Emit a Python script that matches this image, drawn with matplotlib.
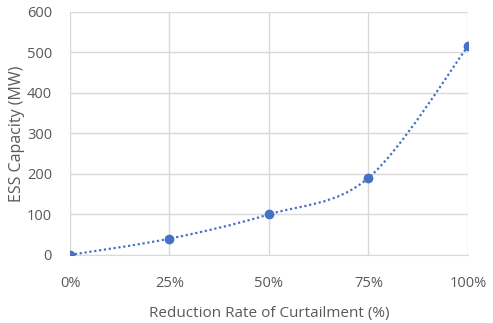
import matplotlib
matplotlib.use("Agg")
import matplotlib.pyplot as plt
import numpy as np
from matplotlib.path import Path
from matplotlib.patches import PathPatch

categories = ["0%", "25%", "50%", "75%", "100%"]
capacity = [0, 40, 100, 190, 515]
y_ticks = [0, 100, 200, 300, 400, 500, 600]

BLUE = "#4472C4"
GRID = "#D9D9D9"
TXT = "#595959"

fig = plt.figure(figsize=(4.93, 3.23), dpi=100)
ax = fig.add_axes([0.142, 0.211, 0.807, 0.752])

x = np.arange(len(categories), dtype=float)
y = np.array(capacity, dtype=float)

# Excel-style smoothed line (cubic Bezier, Catmull-Rom tangents)
pts = np.column_stack([x, y])
verts = [tuple(pts[0])]
codes = [Path.MOVETO]
n = len(pts)
for i in range(n - 1):
    p0 = pts[i - 1] if i > 0 else pts[i]
    p1 = pts[i]
    p2 = pts[i + 1]
    p3 = pts[i + 2] if i + 2 < n else pts[i + 1]
    c1 = p1 + (p2 - p0) / 6.0
    c2 = p2 - (p3 - p1) / 6.0
    verts += [tuple(c1), tuple(c2), tuple(p2)]
    codes += [Path.CURVE4] * 3
patch = PathPatch(Path(verts, codes), facecolor="none", edgecolor=BLUE,
                  lw=1.6, linestyle=(0, (1, 1.2)), zorder=3)
ax.add_patch(patch)
ax.plot(x, y, "o", color=BLUE, markersize=6, zorder=4)

ax.set_xlim(0, 4)
ax.set_ylim(0, 600)
ax.set_xticks(x)
ax.set_xticklabels(categories)
ax.set_yticks(y_ticks)
ax.grid(True, color=GRID, lw=1)
ax.set_axisbelow(True)
for s in ["top", "right", "left"]:
    ax.spines[s].set_visible(False)
ax.spines["bottom"].set_color(GRID)
ax.tick_params(length=0, colors=TXT, labelsize=10.5)
for lab in ax.get_xticklabels() + ax.get_yticklabels():
    lab.set_family("Open Sans")
ax.tick_params(axis="x", pad=15)
ax.tick_params(axis="y", pad=13)
ax.set_xlabel("Reduction Rate of Curtailment (%)", color=TXT, fontsize=11,
              family="Open Sans", labelpad=11)
ax.set_ylabel("ESS Capacity (MW)", color=TXT, fontsize=11.5,
              family="Open Sans", labelpad=1)

fig.savefig("out.png", dpi=100)
